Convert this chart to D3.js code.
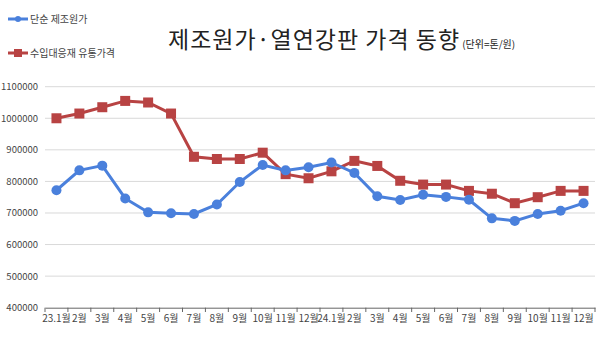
<!DOCTYPE html>
<html><head><meta charset="utf-8">
<script src="https://cdn.jsdelivr.net/npm/d3@7"></script>
<style>body{margin:0;background:#fff;}svg{display:block;font-family:"Noto Sans CJK KR","Noto Sans",sans-serif;}</style>
</head><body><svg id="c" width="600" height="338"></svg>
<script>
const categories = ["23.1월","2월","3월","4월","5월","6월","7월","8월","9월","10월","11월","12월","24.1월","2월","3월","4월","5월","6월","7월","8월","9월","10월","11월","12월"];
const seriesNames = ["단순 제조원가","수입대응재 유통가격"];
const costValues = [772000,835000,850000,746000,702000,699000,697000,727000,798000,852000,835000,845000,860000,827000,753000,741000,758000,751000,742000,683000,675000,697000,707000,731000];
const priceValues = [1000000,1015000,1035000,1055000,1050000,1015000,878000,871000,871000,891000,823000,810000,832000,865000,849000,802000,790000,790000,770000,761000,731000,750000,770000,770000];
const yTicks = [400000,500000,600000,700000,800000,900000,1000000,1100000];
const colors = ["#4a80dc","#b84343"];

const svg = d3.select("#c");
const x = d3.scaleBand().domain(d3.range(categories.length)).range([45,595]);
const y = d3.scaleLinear().domain([400000,1100000]).range([307.7,86.7]);

// grid
svg.append("g").selectAll("line").data(yTicks.slice(1)).join("line")
  .attr("x1",45).attr("x2",595).attr("y1",d=>y(d)).attr("y2",d=>y(d))
  .attr("stroke","#d9d9d9").attr("stroke-width",1);

// y labels
svg.append("g").selectAll("text").data(yTicks).join("text")
  .attr("x",38).attr("y",d=>y(d)+3.5).attr("text-anchor","end")
  .attr("font-size",9.5).attr("fill","#444").text(d=>d);

// x axis
const xa = svg.append("g").attr("transform","translate(0,307.7)")
  .call(d3.axisBottom(x).tickSize(0).tickFormat(i=>categories[i]));
xa.select(".domain").attr("stroke","#666");
xa.selectAll("text").attr("font-size",10).attr("fill","#444").attr("dy","1.15em")
  .attr("font-family","'Noto Sans CJK KR',sans-serif");
svg.append("g").selectAll("line").data(d3.range(categories.length+1)).join("line")
  .attr("x1",i=>45+i*x.bandwidth()).attr("x2",i=>45+i*x.bandwidth())
  .attr("y1",307.7).attr("y2",312).attr("stroke","#666");

const line = d3.line().x((d,i)=>x(i)+x.bandwidth()/2).y(d=>y(d));
// price (red)
svg.append("path").datum(priceValues).attr("d",line).attr("fill","none")
  .attr("stroke",colors[1]).attr("stroke-width",3);
svg.append("g").selectAll("rect").data(priceValues).join("rect")
  .attr("x",(d,i)=>x(i)+x.bandwidth()/2-5).attr("y",d=>y(d)-5)
  .attr("width",10).attr("height",10).attr("fill",colors[1]);
// cost (blue)
svg.append("path").datum(costValues).attr("d",line).attr("fill","none")
  .attr("stroke",colors[0]).attr("stroke-width",3);
svg.append("g").selectAll("circle").data(costValues).join("circle")
  .attr("cx",(d,i)=>x(i)+x.bandwidth()/2).attr("cy",d=>y(d)).attr("r",5)
  .attr("fill",colors[0]);

// legend
const lg = svg.append("g");
[19,53].forEach((ly,k)=>{
  lg.append("line").attr("x1",8).attr("x2",28).attr("y1",ly).attr("y2",ly)
    .attr("stroke",colors[k]).attr("stroke-width",3);
  if(k===0) lg.append("circle").attr("cx",18).attr("cy",ly).attr("r",3).attr("fill",colors[0]);
  else lg.append("rect").attr("x",14).attr("y",ly-4).attr("width",8).attr("height",8).attr("fill",colors[1]);
  lg.append("text").attr("x",30).attr("y",ly+3.5).attr("font-size",10).attr("fill","#444").text(seriesNames[k]);
});

// title
const t = svg.append("text").attr("x",168).attr("y",48).attr("fill","#222");
t.append("tspan").attr("font-size",23).attr("letter-spacing",1).text("제조원가·열연강판 가격 동향");
t.append("tspan").attr("font-size",10).attr("dx",2).text("(단위=톤/원)");
</script></body></html>
